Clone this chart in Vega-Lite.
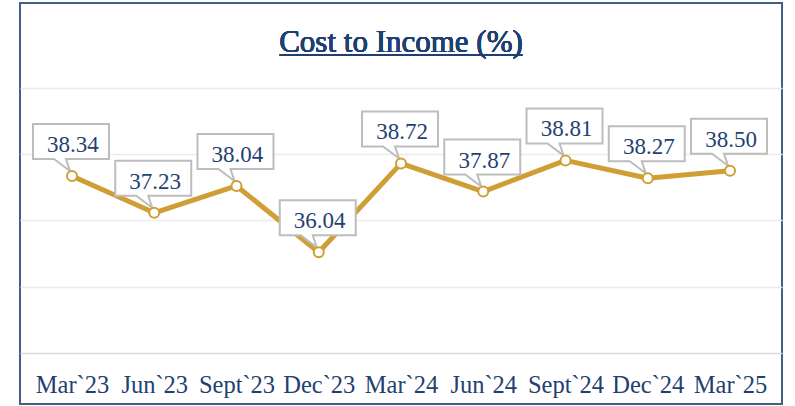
{
  "$schema": "https://vega.github.io/schema/vega-lite/v6.json",
  "width": 762,
  "height": 401,
  "autosize": {"type": "none"},
  "padding": {"left": 20, "top": 3, "right": 13, "bottom": 2},
  "background": "white",
  "config": {
    "view": {"stroke": "#3F6189", "strokeWidth": 2, "fill": "white"},
    "font": "Liberation Serif"
  },
  "data": {
    "values": [
      {"q": "Mar`23", "v": 38.34},
      {"q": "Jun`23", "v": 37.23},
      {"q": "Sept`23", "v": 38.04},
      {"q": "Dec`23", "v": 36.04},
      {"q": "Mar`24", "v": 38.72},
      {"q": "Jun`24", "v": 37.87},
      {"q": "Sept`24", "v": 38.81},
      {"q": "Dec`24", "v": 38.27},
      {"q": "Mar`25", "v": 38.50}
    ]
  },
  "encoding": {
    "x": {
      "field": "q",
      "type": "ordinal",
      "sort": null,
      "scale": {
        "type": "point",
        "padding": 0.632,
        "domain": ["Mar`23", "Jun`23", "Sept`23", "Dec`23", "Mar`24", "Jun`24", "Sept`24", "Dec`24", "Mar`25"]
      },
      "axis": {
        "title": null,
        "orient": "bottom",
        "offset": -51,
        "labelPadding": 39,
        "labelBaseline": "alphabetic",
        "labelAngle": 0,
        "labelFont": "Liberation Serif",
        "labelFontSize": 24.5,
        "labelFontWeight": "normal",
        "labelColor": "#1F4172",
        "labelOverlap": false,
        "ticks": false,
        "domain": false,
        "grid": false
      }
    },
    "y": {
      "field": "v",
      "type": "quantitative",
      "scale": {"domain": [31.46, 43.56], "zero": false, "nice": false},
      "axis": {
        "title": null,
        "labels": false,
        "ticks": false,
        "domain": false,
        "grid": true,
        "values": [33, 35, 37, 39, 41],
        "gridColor": {"condition": {"test": "datum.value === 33", "value": "#D9D9D9"}, "value": "#EBEBEB"},
        "gridWidth": 1.5
      }
    }
  },
  "layer": [
    {
      "mark": {"type": "line", "color": "#CF9F35", "strokeWidth": 5, "strokeJoin": "round"}
    },
    {
      "mark": {
        "type": "point",
        "shape": "M -39 -52 L 37 -52 L 37 -17 L -6 -17 L -2 -5 L -18 -17 L -39 -17 Z",
        "size": 4,
        "filled": true,
        "fill": "white",
        "stroke": "#BDBDBD",
        "strokeWidth": 2,
        "opacity": 1,
        "fillOpacity": 1
      }
    },
    {
      "mark": {
        "type": "point",
        "shape": "circle",
        "size": 100,
        "filled": false,
        "fill": "white",
        "fillOpacity": 1,
        "stroke": "#CF9F35",
        "strokeWidth": 2,
        "opacity": 1
      }
    },
    {
      "mark": {
        "type": "text",
        "font": "Liberation Serif",
        "fontSize": 23,
        "fontWeight": "normal",
        "color": "#1F4172",
        "baseline": "alphabetic",
        "align": "center",
        "dy": -24,
        "dx": 1
      },
      "encoding": {
        "text": {"field": "v", "type": "quantitative", "format": ".2f"}
      }
    },
    {
      "mark": {
        "type": "text",
        "text": "Cost to Income (%)",
        "font": "Liberation Serif",
        "fontSize": 31,
        "fontWeight": "normal",
        "color": "#1F4172",
        "baseline": "alphabetic",
        "align": "center"
      },
      "encoding": {
        "x": {"datum": "Mar`24", "type": "ordinal"},
        "y": {"datum": 42.08, "type": "quantitative"}
      }
    },
    {
      "mark": {"type": "rule", "color": "#1F4172", "strokeWidth": 1.5, "xOffset": -39, "x2Offset": 39},
      "encoding": {
        "x": {"datum": "Dec`23", "type": "ordinal"},
        "x2": {"datum": "Jun`24"},
        "y": {"datum": 41.99, "type": "quantitative"}
      }
    }
  ]
}
